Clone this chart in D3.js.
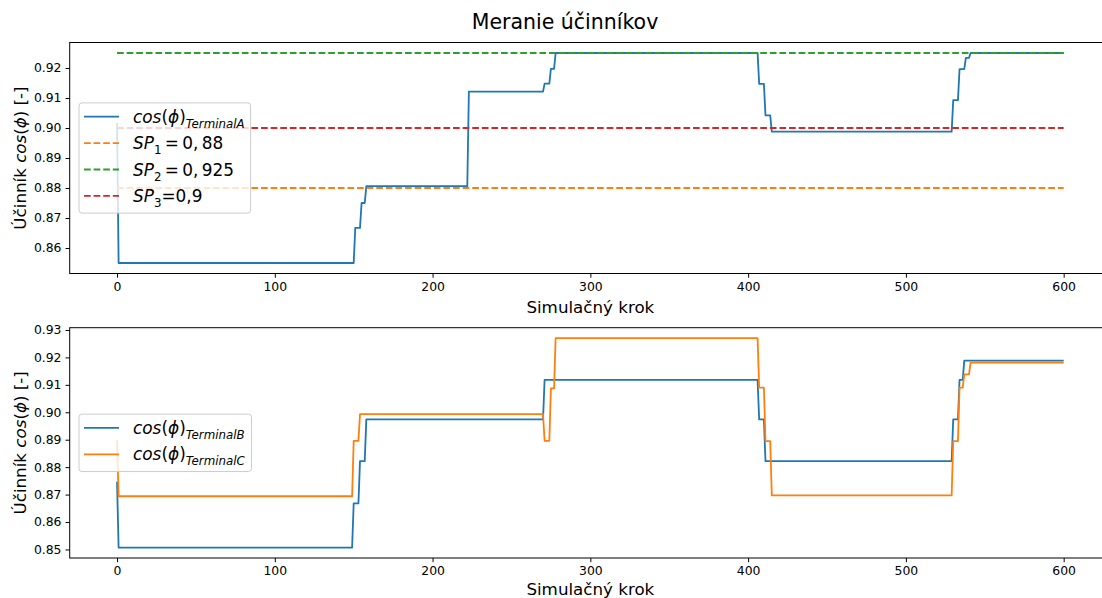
<!DOCTYPE html>
<html>
<head>
<meta charset="utf-8">
<script src="https://cdn.jsdelivr.net/npm/d3@7"></script>
<style>
  body { margin: 0; background: #fff; }
  svg { display: block; }
  text { font-family: "DejaVu Sans", sans-serif; fill: #000; }
</style>
</head>
<body>
<svg id="chart" width="1102" height="598"></svg>
<script>
// ---------------- data ----------------
const lastStep = 600;
const xTicks = [0, 100, 200, 300, 400, 500, 600];
const yTicksTop = [0.86, 0.87, 0.88, 0.89, 0.90, 0.91, 0.92];
const yTicksBottom = [0.85, 0.86, 0.87, 0.88, 0.89, 0.90, 0.91, 0.92, 0.93];

// Terminal A : step at which each level starts, and the level value
const stepsA  = [0, 1, 151, 155, 158, 223, 271, 275, 278, 407, 411, 415, 530, 534, 538, 541];
const valuesA = [0.9017, 0.855, 0.8667, 0.875, 0.8806, 0.9121, 0.9148, 0.9197, 0.925, 0.9147, 0.9042, 0.8988, 0.9093, 0.9196, 0.9234, 0.925];

// Terminal B
const stepsB  = [0, 1, 150, 154, 158, 271, 407, 411, 530, 534, 537];
const valuesB = [0.8747, 0.8507, 0.8668, 0.8822, 0.8974, 0.9118, 0.8974, 0.8822, 0.8974, 0.9118, 0.9188];

// Terminal C
const stepsC  = [0, 1, 150, 154, 271, 275, 278, 407, 411, 415, 530, 534, 537, 541];
const valuesC = [0.8899, 0.8694, 0.8896, 0.8993, 0.8896, 0.9087, 0.927, 0.909, 0.8895, 0.8697, 0.8895, 0.909, 0.9138, 0.9181];

// set points
const spValues = [0.88, 0.925, 0.9];

const titleText = "Meranie účinníkov";
const xLabelText = "Simulačný krok";

// ---------------- helpers ----------------
function levelsToPoints(steps, values) {
  const pts = [];
  for (let i = 0; i < steps.length; i++) {
    const s = steps[i];
    const e = (i + 1 < steps.length) ? steps[i + 1] - 1 : lastStep;
    pts.push([s, values[i]]);
    if (e > s) pts.push([e, values[i]]);
  }
  return pts;
}

const C_BLUE = "#1f77b4", C_ORANGE = "#ff7f0e", C_GREEN = "#2ca02c", C_RED = "#d62728";
const LW = 1.8;
const DASH = "6.7,2.9";

// rich text parts: [text, italic, sub]
function richText(sel, parts, size) {
  let shift = 0;
  parts.forEach(p => {
    const t = sel.append("tspan").text(p[0])
      .style("font-style", p[1] ? "italic" : "normal");
    const target = p[2] ? size * 0.3 : 0;
    const dy = target - shift;
    if (dy !== 0) t.attr("dy", dy);
    shift = target;
    t.style("font-size", (p[2] ? size * 0.7 : size) + "px");
  });
}

const svg = d3.select("#chart");
svg.append("rect").attr("width", 1102).attr("height", 598).attr("fill", "#fff");

// title
svg.append("text").attr("x", 565).attr("y", 29)
  .attr("text-anchor", "middle").style("font-size", "20.5px").text(titleText);

function panel(cfg) {
  const x = d3.scaleLinear().domain([-30, 630]).range([69.7, 1111]);
  const y = d3.scaleLinear().domain(cfg.yDomain).range([cfg.bottom, cfg.top]);
  const g = svg.append("g");

  // series
  const line = d3.line().x(d => x(d[0])).y(d => y(d[1]));
  cfg.series.forEach(s => {
    g.append("path").datum(s.points)
      .attr("fill", "none").attr("stroke", s.color)
      .attr("stroke-width", LW).attr("stroke-dasharray", s.dash || null)
      .attr("stroke-linejoin", "round")
      .attr("d", line);
  });

  // axes
  const xAxis = d3.axisBottom(x).tickValues(xTicks).tickFormat(d3.format("d"))
    .tickSize(4.2).tickPadding(4);
  const gx = g.append("g").attr("transform", `translate(0,${cfg.bottom})`).call(xAxis);
  const yAxis = d3.axisLeft(y).tickValues(cfg.yTicks).tickFormat(d3.format(".2f"))
    .tickSize(4.2).tickPadding(4);
  const gy = g.append("g").attr("transform", `translate(${x.range()[0]},0)`).call(yAxis);
  [gx, gy].forEach(a => {
    a.attr("font-size", null).attr("font-family", null);
    a.selectAll("text").style("font-size", "12.4px").style("font-family", "DejaVu Sans").attr("fill", "#000");
    a.selectAll("line").attr("stroke", "#000").attr("stroke-width", 1);
    a.select(".domain").remove();
  });
  // frame
  g.append("rect").attr("x", x.range()[0]).attr("y", cfg.top)
    .attr("width", x.range()[1] - x.range()[0]).attr("height", cfg.bottom - cfg.top)
    .attr("fill", "none").attr("stroke", "#000").attr("stroke-width", 1);

  // x label
  g.append("text").attr("x", (x.range()[0] + x.range()[1]) / 2).attr("y", Math.min(cfg.bottom + 39, 595))
    .attr("text-anchor", "middle").style("font-size", "16.7px").text(xLabelText);

  // y label
  const cy = (cfg.top + cfg.bottom) / 2;
  const yl = g.append("text").attr("transform", `translate(26,${cy}) rotate(-90)`)
    .attr("text-anchor", "middle");
  richText(yl, [["Účinník ", false], ["cos", true], ["(", false], ["ϕ", true], [")", false], [" [-]", false]], 16.7);

  // legend
  const n = cfg.legend.length;
  const boxH = (n - 1) * 26.4 + 31;
  const boxTop = cy - boxH / 2;
  const boxX = 79;
  const lg = g.append("g");
  const box = lg.append("rect").attr("x", boxX).attr("y", boxTop).attr("height", boxH)
    .attr("rx", 3).attr("fill", "#fff").attr("fill-opacity", 0.8)
    .attr("stroke", "#cccccc").attr("stroke-width", 1);
  let maxW = 0;
  cfg.legend.forEach((L, i) => {
    const ry = boxTop + 13.8 + i * 26.4;
    lg.append("line").attr("x1", 84).attr("x2", 119).attr("y1", ry).attr("y2", ry)
      .attr("stroke", L.color).attr("stroke-width", LW).attr("stroke-dasharray", L.dash || null);
    const t = lg.append("text").attr("x", 133).attr("y", ry + 6);
    richText(t, L.parts, 16.9);
    maxW = Math.max(maxW, t.node().getBBox().width);
  });
  box.attr("width", 133 + maxW + 6 - boxX);
}

panel({
  top: 42.5, bottom: 273.5,
  yDomain: [0.8515, 0.9285],
  yTicks: yTicksTop,
  series: [
    { points: levelsToPoints(stepsA, valuesA), color: C_BLUE },
    { points: [[0, spValues[0]], [lastStep, spValues[0]]], color: C_ORANGE, dash: DASH },
    { points: [[0, spValues[1]], [lastStep, spValues[1]]], color: C_GREEN, dash: DASH },
    { points: [[0, spValues[2]], [lastStep, spValues[2]]], color: C_RED, dash: DASH }
  ],
  legend: [
    { color: C_BLUE, parts: [["cos", true], ["(", false], ["ϕ", true], [")", false], ["TerminalA", true, true]] },
    { color: C_ORANGE, dash: DASH, parts: [["SP", true], ["1", false, true], ["\u2009=\u20090,\u200988", false]] },
    { color: C_GREEN, dash: DASH, parts: [["SP", true], ["2", false, true], ["\u2009=\u20090,\u2009925", false]] },
    { color: C_RED, dash: DASH, parts: [["SP", true], ["3", false, true], ["=0,9", false]] }
  ]
});

panel({
  top: 327.7, bottom: 558,
  yDomain: [0.84689, 0.93082],
  yTicks: yTicksBottom,
  series: [
    { points: levelsToPoints(stepsB, valuesB), color: C_BLUE },
    { points: levelsToPoints(stepsC, valuesC), color: C_ORANGE }
  ],
  legend: [
    { color: C_BLUE, parts: [["cos", true], ["(", false], ["ϕ", true], [")", false], ["TerminalB", true, true]] },
    { color: C_ORANGE, parts: [["cos", true], ["(", false], ["ϕ", true], [")", false], ["TerminalC", true, true]] }
  ]
});
</script>
</body>
</html>
